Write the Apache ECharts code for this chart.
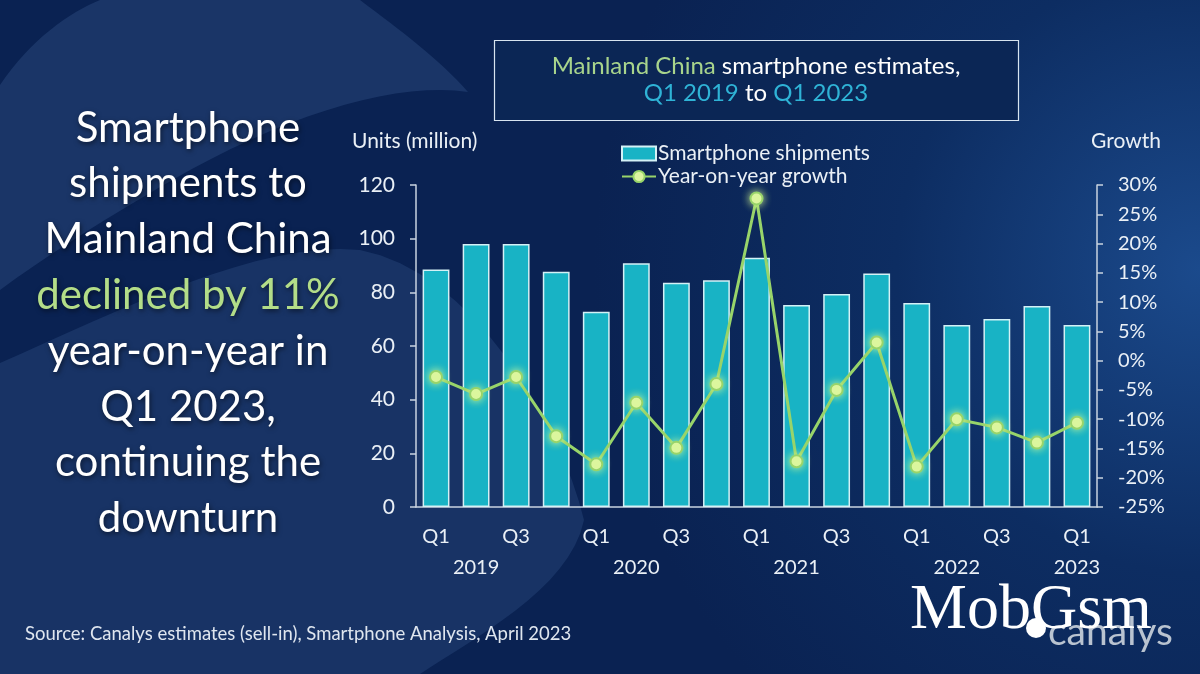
<!DOCTYPE html>
<html>
<head>
<meta charset="utf-8">
<script src="https://cdn.jsdelivr.net/npm/echarts@6/dist/echarts.min.js"></script>
<style>html,body{margin:0;padding:0;background:#0c2a5c;}#c{width:1200px;height:674px;}</style>
</head>
<body>
<div id="c"></div>
<script>
const categories = ['Q1 2019','Q2 2019','Q3 2019','Q4 2019','Q1 2020','Q2 2020','Q3 2020','Q4 2020','Q1 2021','Q2 2021','Q3 2021','Q4 2021','Q1 2022','Q2 2022','Q3 2022','Q4 2022','Q1 2023'];
const quarterLabels = ['Q1','','Q3','','Q1','','Q3','','Q1','','Q3','','Q1','','Q3','','Q1'];
const yearLabels = ['','2019','','','','2020','','','','2021','','','','2022','','','2023'];
const shipments = [88.5, 98, 98, 87.7, 72.8, 90.8, 83.6, 84.5, 92.9, 75.3, 79.4, 87.0, 76.0, 67.8, 70.1, 74.9, 67.8];
const growth = [-2.8, -5.7, -2.8, -12.9, -17.7, -7.2, -14.9, -4.0, 27.7, -17.2, -5.0, 3.1, -18.1, -10.0, -11.4, -14.0, -10.6];
const leftTicks = {min: 0, max: 120, interval: 20};
const rightTicks = {min: -25, max: 30, interval: 5};

const FONT = 'Lato, "Open Sans", sans-serif';
const chart = echarts.init(document.getElementById('c'));
const white = '#eaf0f6';

// decorative background shapes: sample cubic bezier segments into polygon points
function bez(start, segs, extra) {
  const pts = [start];
  let p0 = start;
  segs.forEach(s => {
    const [c1, c2, p3] = s;
    for (let k = 1; k <= 16; k++) {
      const t = k / 16, u = 1 - t;
      pts.push([
        u*u*u*p0[0] + 3*u*u*t*c1[0] + 3*u*t*t*c2[0] + t*t*t*p3[0],
        u*u*u*p0[1] + 3*u*u*t*c1[1] + 3*u*t*t*c2[1] + t*t*t*p3[1]
      ]);
    }
    p0 = p3;
  });
  return pts.concat(extra || []);
}
const lowerShape = bez([0, 363], [
  [[120, 310], [260, 240], [360, 250]],
  [[470, 270], [560, 420], [584, 520]],
  [[570, 590], [470, 640], [420, 674]]
], [[0, 674]]);
const upperShape = bez([0, 85], [
  [[30, 40], [70, 12], [100, 0]],
  [[200, 0], [300, 0], [360, 0]],
  [[400, 30], [440, 60], [468, 92]],
  [[400, 82], [300, 110], [190, 170]],
  [[110, 215], [40, 260], [0, 290]]
]);

const leftLines = ['Smartphone','shipments to','Mainland China','declined by 11%','year-on-year in','Q1 2023,','continuing the','downturn'];
const leftText = leftLines.map((t, i) => ({
  type: 'text', z: 5,
  style: {
    text: t, x: 188, y: 128 + i * 55.8, textAlign: 'center', textVerticalAlign: 'middle',
    fill: i === 3 ? '#b3dd88' : '#ffffff', font: '42px ' + FONT,
    textShadowColor: 'rgba(0,0,0,0.55)', textShadowBlur: 5, textShadowOffsetX: 1, textShadowOffsetY: 2
  }
}));

chart.setOption({
  animation: false,
  backgroundColor: {
    type: 'radial', x: 1.0, y: 0.4, r: 0.9,
    colorStops: [{offset: 0, color: '#1b4a8c'}, {offset: 0.5, color: '#0d2d62'}, {offset: 1, color: '#0a2252'}]
  },
  graphic: [
    {type: 'polygon', z: -1, shape: {points: lowerShape}, style: {fill: 'rgba(45,78,130,0.4)'}},
    {type: 'polygon', z: -1, shape: {points: upperShape}, style: {fill: 'rgba(50,82,135,0.4)'}},
    {type: 'rect', z: 1, shape: {x: 494.5, y: 40.5, width: 524, height: 80},
     style: {fill: '#0b2655', stroke: '#d8e4f0', lineWidth: 1.2}},
    {type: 'text', z: 5, style: {
      text: '{g|Mainland China} smartphone estimates,', x: 756, y: 66, textAlign: 'center', textVerticalAlign: 'middle',
      font: '24px ' + FONT, fill: '#ffffff',
      rich: {g: {fill: '#a8d48c', font: '24px ' + FONT}}
    }},
    {type: 'text', z: 5, style: {
      text: '{c|Q1 2019} to {c|Q1 2023}', x: 756, y: 93, textAlign: 'center', textVerticalAlign: 'middle',
      font: '24px ' + FONT, fill: '#ffffff',
      rich: {c: {fill: '#2fb3d6', font: '24px ' + FONT}}
    }},
    {type: 'text', z: 5, style: {text: 'Units (million)', x: 352, y: 141, textVerticalAlign: 'middle', fill: white, font: '21px ' + FONT}},
    {type: 'text', z: 5, style: {text: 'Growth', x: 1091, y: 141, textVerticalAlign: 'middle', fill: white, font: '21px ' + FONT}},
    {type: 'text', z: 5, style: {text: 'Source: Canalys estimates (sell-in), Smartphone Analysis, April 2023', x: 25, y: 634, textVerticalAlign: 'middle', fill: '#dfe6ef', font: '18.5px ' + FONT}},
    {type: 'circle', z: 5, shape: {cx: 1036, cy: 628, r: 10}, style: {fill: '#ffffff'}},
    {type: 'text', z: 5, style: {text: 'canalys', x: 1048, y: 632, textVerticalAlign: 'middle', fill: '#b9c3d0', font: '39px ' + FONT}},
    {type: 'text', z: 6, style: {text: 'MobGsm', x: 910, y: 611, textVerticalAlign: 'middle', fill: '#ffffff', font: '64px "Liberation Serif", "DejaVu Serif", serif'}}
  ].concat(leftText),
  legend: {
    orient: 'vertical', left: 616, top: 138, itemGap: 2, itemWidth: 34, itemHeight: 14,
    textStyle: {color: white, fontSize: 21, fontFamily: FONT, padding: [0, 0, 0, -3]},
    data: [
      {name: 'Smartphone shipments', icon: 'rect'},
      {name: 'Year-on-year growth'}
    ]
  },
  grid: {left: 416, right: 103, top: 185, bottom: 167},
  xAxis: [
    {type: 'category', data: categories, position: 'bottom',
     axisLine: {lineStyle: {color: '#c9d3e0', width: 1.5}}, axisTick: {show: false},
     axisLabel: {interval: 0, margin: 20, color: white, fontSize: 20, fontFamily: FONT,
       formatter: (v, i) => quarterLabels[i]}},
    {type: 'category', data: categories, position: 'bottom',
     axisLine: {show: false}, axisTick: {show: false},
     axisLabel: {interval: 0, margin: 51, color: white, fontSize: 20, fontFamily: FONT,
       formatter: (v, i) => yearLabels[i]}}
  ],
  yAxis: [
    {type: 'value', min: leftTicks.min, max: leftTicks.max, interval: leftTicks.interval, position: 'left',
     axisLine: {show: true, lineStyle: {color: '#c9d3e0', width: 1.5}},
     axisTick: {show: true, length: 6, lineStyle: {color: '#c9d3e0', width: 1.5}},
     splitLine: {show: false},
     axisLabel: {color: white, fontSize: 21, fontFamily: FONT, margin: 21}},
    {type: 'value', min: rightTicks.min, max: rightTicks.max, interval: rightTicks.interval, position: 'right',
     axisLine: {show: true, lineStyle: {color: '#c9d3e0', width: 1.5}},
     axisTick: {show: true, length: 6, lineStyle: {color: '#c9d3e0', width: 1.5}},
     splitLine: {show: false},
     axisLabel: {color: white, fontSize: 20, fontFamily: FONT, margin: 21, formatter: v => v + '%'}}
  ],
  series: [
    {name: 'Smartphone shipments', type: 'bar', data: shipments, barWidth: '67%', xAxisIndex: 0, yAxisIndex: 0,
     itemStyle: {color: '#18b3c5', borderColor: '#d4f1f6', borderWidth: 1.5}},
    {name: 'Year-on-year growth', type: 'line', data: growth, xAxisIndex: 0, yAxisIndex: 1,
     symbol: 'circle', symbolSize: 12, z: 5,
     lineStyle: {color: '#98d46a', width: 3},
     itemStyle: {color: '#dcf4a0', borderColor: '#98d46a', borderWidth: 2, shadowColor: 'rgba(220,255,150,0.9)', shadowBlur: 8}}
  ]
});
</script>
</body>
</html>
